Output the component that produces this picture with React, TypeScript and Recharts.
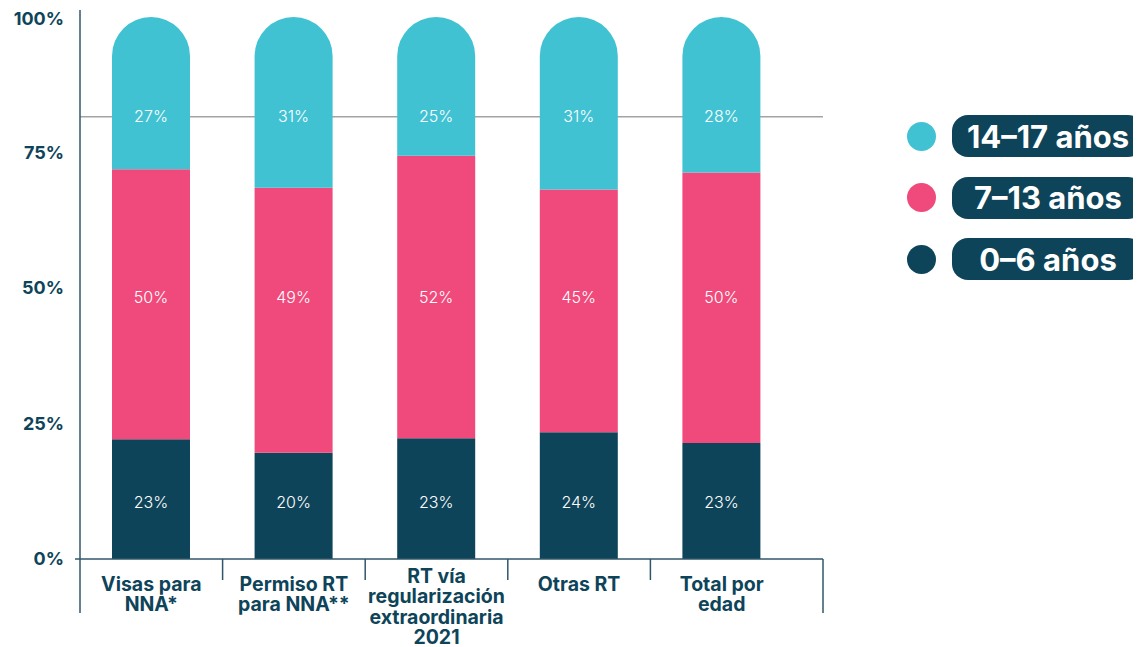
import React from "react";
import { BarChart, Bar, XAxis, YAxis, ReferenceLine, LabelList } from "recharts";

const categories = [
  ["Visas para", "NNA*"],
  ["Permiso RT", "para NNA**"],
  ["RT vía", "regularización", "extraordinaria", "2021"],
  ["Otras RT"],
  ["Total por", "edad"],
];

// shares (percent)
const ages0to6 = [22.1, 19.6, 22.3, 23.4, 21.4];
const ages7to13 = [49.8, 48.9, 52.1, 44.8, 49.9];
const ages14to17 = [28.1, 31.5, 25.6, 31.8, 28.7];

// printed labels
const labels0to6 = ["23%", "20%", "23%", "24%", "23%"];
const labels7to13 = ["50%", "49%", "52%", "45%", "50%"];
const labels14to17 = ["27%", "31%", "25%", "31%", "28%"];

const yTicks = [0, 25, 50, 75, 100];
const guideLine = 81.6;

const TEAL = "#41C2D3";
const PINK = "#EF4A7B";
const NAVY = "#0E4459";
const AXIS = "#2F5769";
const FONT = "Inter, 'DejaVu Sans', sans-serif";

const legendItems = [
  { name: "14–17 años", color: TEAL },
  { name: "7–13 años", color: PINK },
  { name: "0–6 años", color: NAVY },
];

const data = categories.map((lines, i) => ({
  name: lines.join(" "),
  a: ages0to6[i],
  b: ages7to13[i],
  c: ages14to17[i],
  la: labels0to6[i],
  lb: labels7to13[i],
  lc: labels14to17[i],
}));

const W = 1133;
const H = 639;
const MARGIN = { top: 2, right: 318, bottom: 8, left: 10 };
const Y_WIDTH = 62;
const X_HEIGHT = 80;
const Y_MAX = 101.3;
const PAD_RIGHT = 30;
const BAND = (W - MARGIN.right - MARGIN.left - Y_WIDTH - PAD_RIGHT) / categories.length;
const PLOT_BOTTOM = H - MARGIN.bottom - X_HEIGHT;
const PX_PER_PCT = (PLOT_BOTTOM - MARGIN.top) / Y_MAX;
// labels sit at fixed heights in each column, not at segment centres
const levelY = (pct: number) => PLOT_BOTTOM - pct * PX_PER_PCT;

function CategoryTick(props: any) {
  const { x, y, index } = props;
  const lines = categories[index] || [];
  const left = x - BAND / 2;
  const startY = y + (lines.length > 2 ? 24 : 32);
  const last = index === categories.length - 1;
  return (
    <g>
      <line x1={left} x2={left} y1={y} y2={y + (index === 0 ? 54 : 21)} stroke={AXIS} strokeWidth={1.5} />
      {index === 0 && <line x1={left - 5} x2={left} y1={y} y2={y} stroke={AXIS} strokeWidth={1.5} />}
      {last && (
        <line
          x1={x + BAND / 2 + PAD_RIGHT}
          x2={x + BAND / 2 + PAD_RIGHT}
          y1={y}
          y2={y + 54}
          stroke={AXIS}
          strokeWidth={1.5}
        />
      )}
      <text x={x} y={startY} textAnchor="middle" fill={NAVY} fontFamily={FONT} fontWeight={700} fontSize={19.5}>
        {lines.map((l, i) => (
          <tspan key={i} x={x} dy={i === 0 ? 0 : 20.4}>
            {l}
          </tspan>
        ))}
      </text>
    </g>
  );
}

function segLabel(level: number) {
  return (p: any) => {
    const { x, width, value } = p;
    return (
      <text
        x={x + width / 2}
        y={levelY(level)}
        textAnchor="middle"
        dominantBaseline="central"
        fill="#fff"
        fontFamily={FONT}
        fontWeight={300}
        fontSize={16}
      >
        {value}
      </text>
    );
  };
}

export default function App() {
  return (
    <div style={{ position: "relative", width: W, height: H, overflow: "hidden" }}>
      <BarChart width={W} height={H} data={data} margin={MARGIN} barSize={78}>
        <YAxis
          width={Y_WIDTH}
          domain={[0, Y_MAX]}
          ticks={yTicks}
          allowDataOverflow
          tickFormatter={(v: number) => `${v}%`}
          tickLine={false}
          tickMargin={10}
          axisLine={{ stroke: AXIS, strokeWidth: 1.5 }}
          tick={{ fill: NAVY, fontFamily: FONT, fontWeight: 700, fontSize: 18 }}
        />
        <XAxis
          dataKey="name"
          height={X_HEIGHT}
          interval={0}
          padding={{ left: 0, right: PAD_RIGHT }}
          tickLine={false}
          tickSize={0}
          tickMargin={0}
          axisLine={{ stroke: AXIS, strokeWidth: 1.5 }}
          tick={<CategoryTick />}
        />
        <ReferenceLine y={guideLine} stroke="#A3A3A3" strokeWidth={1.5} zIndex={-10} />
        <Bar dataKey="a" stackId="s" fill={NAVY} isAnimationActive={false}>
          <LabelList dataKey="la" content={segLabel(10.6)} />
        </Bar>
        <Bar dataKey="b" stackId="s" fill={PINK} isAnimationActive={false}>
          <LabelList dataKey="lb" content={segLabel(48.3)} />
        </Bar>
        <Bar dataKey="c" stackId="s" fill={TEAL} radius={[39, 39, 0, 0]} isAnimationActive={false}>
          <LabelList dataKey="lc" content={segLabel(81.8)} />
        </Bar>
      </BarChart>
      {legendItems.map((item, i) => (
        <div key={item.name} style={{ position: "absolute", left: 899, top: 107 + i * 61.5, height: 42, display: "flex", alignItems: "center" }}>
          <div style={{ width: 29, height: 29, borderRadius: "50%", background: item.color }} />
          <div
            style={{
              marginLeft: 16,
              width: 192,
              height: 42,
              borderRadius: 16,
              background: NAVY,
              color: "#fff",
              fontFamily: FONT,
              fontWeight: 700,
              fontSize: 31,
              display: "flex",
              alignItems: "center",
              justifyContent: "center",
            }}
          >
            {item.name}
          </div>
        </div>
      ))}
    </div>
  );
}
